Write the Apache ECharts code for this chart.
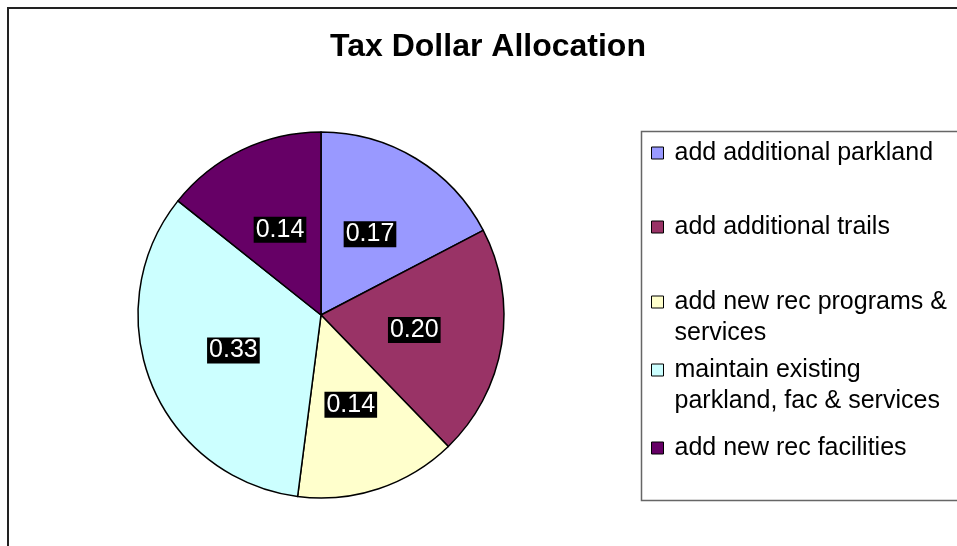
<!DOCTYPE html>
<html>
<head>
<meta charset="utf-8">
<script src="https://cdn.jsdelivr.net/npm/echarts@6/dist/echarts.min.js"></script>
<style>
  html, body { margin: 0; padding: 0; background: #fff; }
  #chart { width: 957px; height: 546px; }
</style>
</head>
<body>
<div id="chart"></div>
<script>
(function(){
  // datos
  const categories = [
    "add additional parkland",
    "add additional trails",
    "add new rec programs & services",
    "maintain existing parkland, fac & services",
    "add new rec facilities"
  ];
  const shares = [0.17, 0.20, 0.14, 0.33, 0.14];
  const colors = ["#9999FF", "#993366", "#FFFFCC", "#CCFFFF", "#660066"];
  // como se parte el texto de la leyenda (lineas)
  const legendLines = [
    ["add additional parkland"],
    ["add additional trails"],
    ["add new rec programs &", "services"],
    ["maintain existing", "parkland, fac & services"],
    ["add new rec facilities"]
  ];
  // centro vertical de la primera linea de cada entrada
  const legendY = [153, 227, 302, 370, 448];

  const font = '"Liberation Sans", Arial, sans-serif';
  const fontSize = 25;
  const lh1 = 28, lh2 = 31;

  const chart = echarts.init(document.getElementById("chart"));

  // una leyenda por entrada, para copiar el espaciado de Excel
  const legends = categories.map((name, i) => {
    const lines = legendLines[i];
    const two = lines.length > 1;
    const lh = two ? lh2 : lh1;
    const boxH = two ? lh * 3 : lh;
    // con dos lineas se mete una linea vacia arriba para que la primera quede junto al icono
    const text = two ? " \n" + lines.join("\n") : lines[0];
    return {
      orient: "vertical",
      left: 651,
      top: legendY[i] - boxH / 2,
      padding: 0,
      itemWidth: 12,
      itemHeight: 12,
      icon: "rect",
      itemStyle: { borderColor: "#000", borderWidth: 1 },
      data: [name],
      formatter: () => text,
      textStyle: {
        fontFamily: font,
        fontSize: fontSize,
        color: "#000",
        lineHeight: lh,
        padding: [0, 0, 0, 6]
      },
      selectedMode: false
    };
  });

  const option = {
    animation: false,
    backgroundColor: "#fff",
    title: {
      text: "Tax Dollar Allocation",
      left: 488,
      textAlign: "center",
      top: 31,
      padding: 0,
      textStyle: { fontFamily: font, fontSize: 32, fontWeight: "bold", color: "#000" }
    },
    legend: legends,
    graphic: [
      { type: "rect", shape: { x: 8, y: 8, width: 1000, height: 600 },
        style: { fill: null, stroke: "#222", lineWidth: 2 }, silent: true },
      { type: "rect", shape: { x: 641.5, y: 131.5, width: 400, height: 369 },
        style: { fill: null, stroke: "#666", lineWidth: 1.5 }, silent: true }
    ],
    series: [{
      type: "pie",
      center: [321, 315],
      radius: 183,
      startAngle: 90,
      clockwise: true,
      avoidLabelOverlap: false,
      itemStyle: { borderColor: "#000", borderWidth: 1.5 },
      emphasis: { disabled: true },
      label: {
        show: true,
        position: "inside",
        formatter: p => p.value.toFixed(2),
        fontFamily: font,
        fontSize: fontSize,
        color: "#fff",
        backgroundColor: "#000",
        padding: [1, 2, 0, 2],
        lineHeight: 25
      },
      labelLine: { show: false },
      data: categories.map((name, i) => ({
        name: name, value: shares[i], itemStyle: { color: colors[i] }
      }))
    }]
  };

  chart.setOption(option);
  window.addEventListener("resize", () => chart.resize());
})();
</script>
</body>
</html>
